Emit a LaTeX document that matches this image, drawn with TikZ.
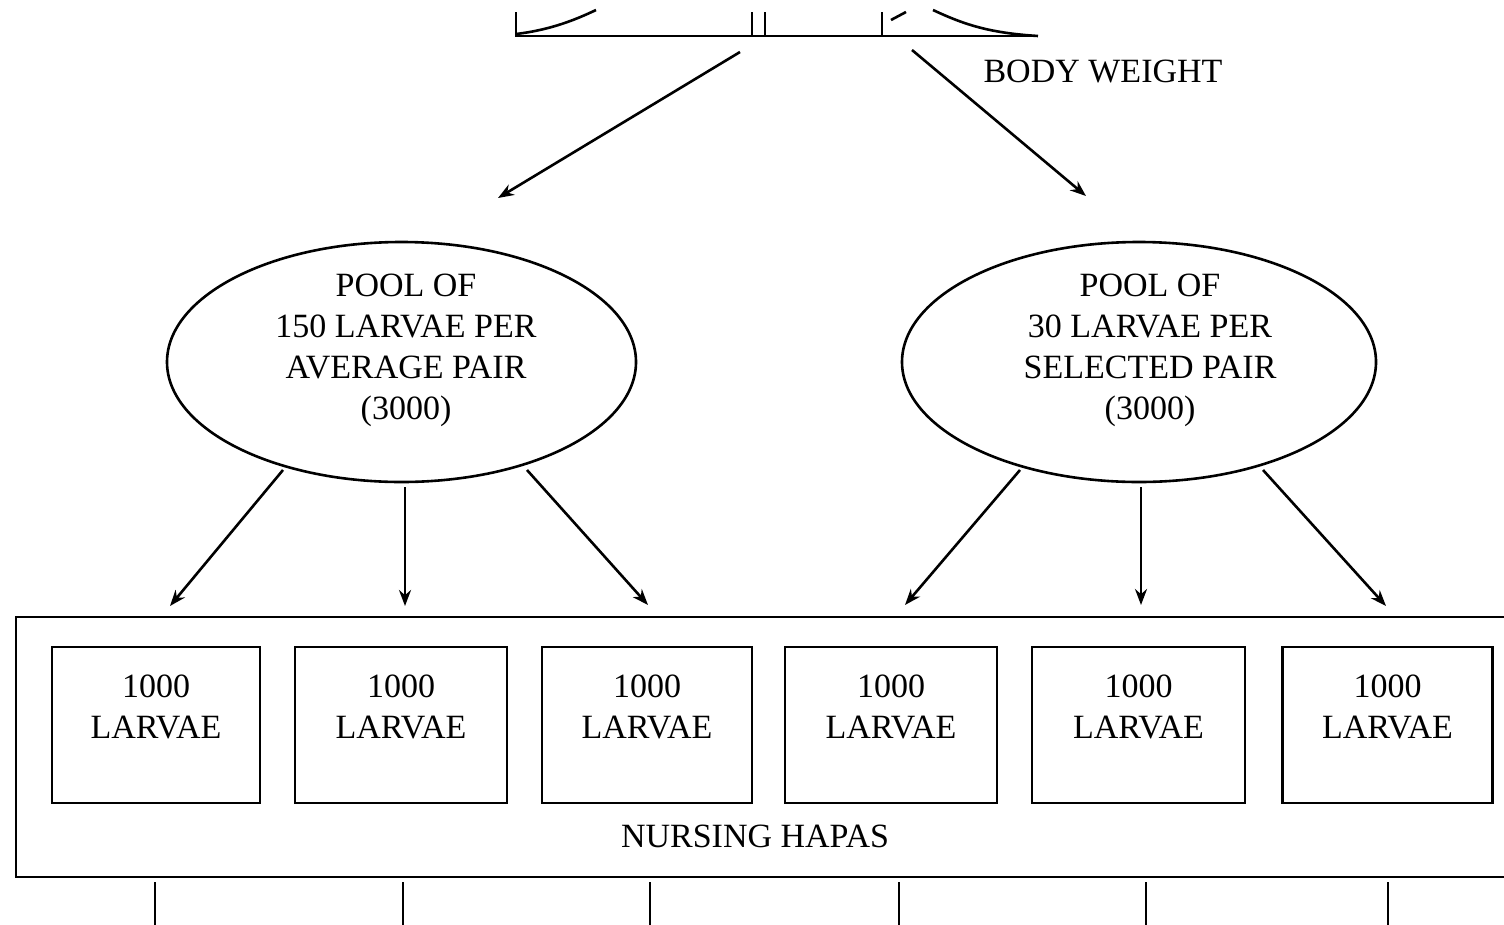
\documentclass[tikz,border=0pt]{standalone}
\usepackage{fontspec}
\setmainfont{Liberation Serif}
\usetikzlibrary{shapes.geometric,arrows.meta}
\begin{document}
\begin{tikzpicture}[x=1pt,y=-1pt,
  ln/.style={line width=2.6pt},
  arr/.style={line width=2.6pt,-{Stealth[length=16pt,width=12pt]}},
  txt/.style={font=\fontsize{34}{41}\selectfont,align=center,inner sep=0pt},
  pool/.style={draw,ellipse,line width=2.6pt,inner sep=0pt},
  hapa/.style={draw,rectangle,line width=2.6pt,inner sep=0pt}]
\useasboundingbox (0,0) rectangle (1504,924);
\clip (0,0) rectangle (1504,924);
\fill[white] (0,0) rectangle (1504,924);
% top graph fragment
\draw[ln] (516,12) -- (516,36) -- (1038,36);
\draw[ln] (516,34) .. controls (550,30) and (575,20) .. (596,10);
\draw[ln] (933,10) .. controls (965,25) and (990,33) .. (1038,36);
\draw[ln] (752,12) -- (752,36);
\draw[ln] (765,12) -- (765,36);
\draw[ln] (882,12) -- (882,36);
\draw[ln] (891,20) -- (906,12);
\node[txt] (bw) at (1103,71) {BODY WEIGHT};
% top arrows
\coordinate (t1) at (740,52);
\coordinate (t2) at (912,50);
\coordinate (e1) at (498,198);
\coordinate (e2) at (1086,196);
\draw[arr] (t1) -- (e1);
\draw[arr] (t2) -- (e2);
% ellipses
\node[pool,minimum width=469pt,minimum height=240pt] (L) at (401.5,362) {};
\node[pool,minimum width=474pt,minimum height=240pt] (R) at (1139,362) {};
\node[txt] (Lt) at (406,350) {POOL OF\\150 LARVAE PER\\AVERAGE PAIR\\(3000)};
\node[txt] (Rt) at (1150,350) {POOL OF\\30 LARVAE PER\\SELECTED PAIR\\(3000)};
% outer box
\node[hapa,minimum width=1520pt,minimum height=260pt] (H) at (776,747) {};
\node[txt] (Ht) at (755,836) {NURSING HAPAS};
% inner boxes
\foreach \n/\x/\w in {1/156/208,2/401/212,3/647/210,4/891/212,5/1138.5/213,6/1387.5/210}{
  \node[hapa,minimum width=\w pt,minimum height=156pt] (b\n) at (\x,725) {};
  \node[txt] (bt\n) at (\x,707) {1000\\LARVAE};
}
% arrows from ellipses
\coordinate (s1) at (283,470);
\coordinate (s2) at (405,487);
\coordinate (s3) at (527,470);
\coordinate (s4) at (1020,470);
\coordinate (s5) at (1141,487);
\coordinate (s6) at (1263,470);
\coordinate (a1) at (170,606);
\coordinate (a2) at (405,606);
\coordinate (a3) at (648,605);
\coordinate (a4) at (905,605);
\coordinate (a5) at (1141,605);
\coordinate (a6) at (1386,606);
\foreach \i in {1,...,6}{\draw[arr] (s\i) -- (a\i);}
% lines below
\foreach \i/\x in {1/155,2/403,3/650,4/899,5/1146,6/1388}{
  \coordinate (u\i) at (\x,882);
  \coordinate (d\i) at (\x,930);
  \draw[ln] (u\i) -- (d\i);
}
\end{tikzpicture}
\end{document}
